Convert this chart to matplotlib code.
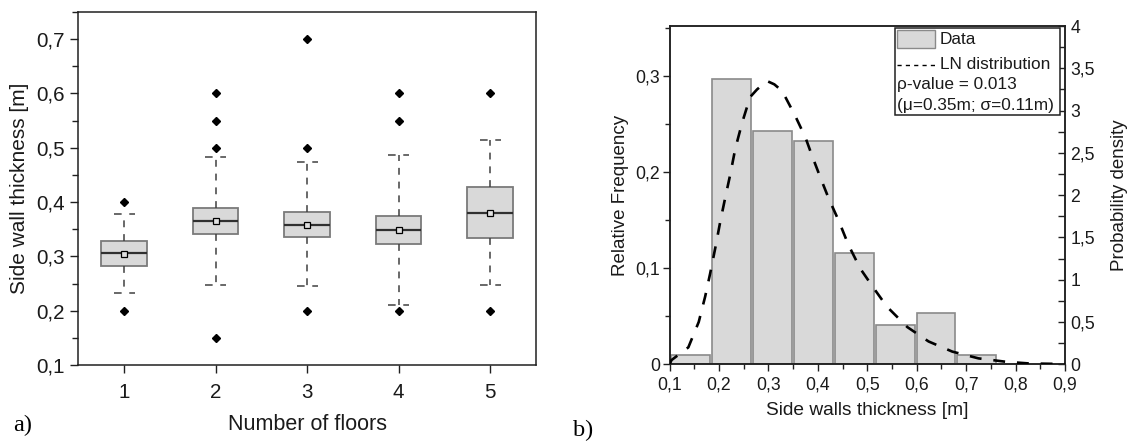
import matplotlib
matplotlib.use("Agg")
import matplotlib.pyplot as plt
from matplotlib.patches import Rectangle
from matplotlib.lines import Line2D
from matplotlib.ticker import MultipleLocator, FuncFormatter

plt.rcParams['font.family'] = ['Liberation Sans', 'DejaVu Sans']

# ---------------- data: panel a (box plots) ----------------
floors = [1, 2, 3, 4, 5]
q1 = [0.283, 0.341, 0.336, 0.322, 0.334]
median = [0.306, 0.366, 0.358, 0.349, 0.380]
q3 = [0.329, 0.389, 0.381, 0.375, 0.427]
mean = [0.305, 0.365, 0.358, 0.349, 0.380]
whisker_low = [0.233, 0.248, 0.245, 0.211, 0.247]
whisker_high = [0.378, 0.483, 0.473, 0.487, 0.515]
outliers = [[0.40, 0.20],
            [0.60, 0.55, 0.50, 0.15],
            [0.70, 0.50, 0.20],
            [0.60, 0.55, 0.20],
            [0.60, 0.20]]

# ---------------- data: panel b (histogram + LN fit) ----------------
bin_edges = [0.100, 0.183, 0.266, 0.349, 0.432, 0.515, 0.598, 0.680, 0.763]
rel_freq = [0.0097, 0.297, 0.243, 0.232, 0.116, 0.041, 0.053, 0.0097]
ln_x = [0.100, 0.104, 0.138, 0.159, 0.172, 0.182, 0.193, 0.203, 0.213, 0.223,
        0.233, 0.247, 0.263, 0.277, 0.297, 0.312, 0.328, 0.354, 0.375, 0.388,
        0.405, 0.422, 0.442, 0.462, 0.486, 0.513, 0.540, 0.581, 0.624, 0.672,
        0.725, 0.780, 0.827, 0.900]
ln_d = [0.00, 0.05, 0.20, 0.50, 0.80, 1.07, 1.39, 1.70, 1.98, 2.25,
        2.55, 2.86, 3.16, 3.25, 3.35, 3.31, 3.23, 2.94, 2.68, 2.47,
        2.21, 1.96, 1.70, 1.41, 1.13, 0.90, 0.68, 0.44, 0.27, 0.15,
        0.07, 0.03, 0.01, 0.003]

TXT = '#1a1a1a'

def comma(v, pos):
    s = ('%.2f' % v).rstrip('0').rstrip('.')
    return s.replace('.', ',')

fig = plt.figure(figsize=(11.27, 4.46), dpi=100)

# ================= panel a =================
ax = fig.add_axes([0.0695, 0.1816, 0.4059, 0.7915])
stats = []
for i in range(len(floors)):
    stats.append(dict(label=str(floors[i]), q1=q1[i], med=median[i], q3=q3[i],
                      mean=mean[i], whislo=whisker_low[i], whishi=whisker_high[i],
                      fliers=outliers[i]))
ax.bxp(stats, positions=floors, widths=0.5, capwidths=0.23, patch_artist=True,
       showmeans=True, showfliers=True,
       boxprops=dict(facecolor='#d9d9d9', edgecolor='#7a7a7a', linewidth=1.3),
       medianprops=dict(color='#303030', linewidth=1.6),
       whiskerprops=dict(color='#404040', linewidth=1.1, linestyle=(0, (4.5, 4.5))),
       capprops=dict(color='#404040', linewidth=1.1, linestyle=(0, (5, 5))),
       meanprops=dict(marker='s', markersize=4, markerfacecolor='#e0e0e0',
                      markeredgecolor='black', markeredgewidth=0.9),
       flierprops=dict(marker='D', markersize=4.2, markerfacecolor='black',
                       markeredgecolor='black'))
ax.set_xlim(0.5, 5.5)
ax.set_ylim(0.1, 0.75)
ax.yaxis.set_major_locator(MultipleLocator(0.1))
ax.yaxis.set_minor_locator(MultipleLocator(0.05))
ax.yaxis.set_major_formatter(FuncFormatter(comma))
ax.set_xticks(floors)
ax.set_xticklabels([str(f) for f in floors])
ax.tick_params(axis='both', which='major', direction='out', length=6, width=1,
               labelsize=14.8, labelcolor=TXT, color='#202020')
ax.tick_params(axis='y', which='minor', direction='out', length=4, width=1, color='#202020')
ax.tick_params(axis='y', which='major', pad=4)
ax.tick_params(axis='x', which='major', pad=7)
for sp in ax.spines.values():
    sp.set_linewidth(1.1)
    sp.set_color('#202020')
ax.set_xlabel('Number of floors', fontsize=15.5, color=TXT)
ax.set_ylabel('Side wall thickness [m]', fontsize=15, color=TXT)
ax.xaxis.set_label_coords(0.5, -0.138)
ax.yaxis.set_label_coords(-0.108, 0.5)

# ================= panel b =================
bx = fig.add_axes([0.5941, 0.1832, 0.3509, 0.7585])
gap = 0.004
lefts = [bin_edges[i] + gap / 2 for i in range(len(rel_freq))]
widths = [bin_edges[i + 1] - bin_edges[i] - gap for i in range(len(rel_freq))]
bx.bar(lefts, rel_freq, width=widths, align='edge', color='#d9d9d9',
       edgecolor='#8a8a8a', linewidth=1.2, zorder=2)
bx.set_xlim(0.1, 0.9)
bx.set_ylim(0, 0.352)
bx.xaxis.set_major_locator(MultipleLocator(0.1))
bx.xaxis.set_minor_locator(MultipleLocator(0.05))
bx.yaxis.set_major_locator(MultipleLocator(0.1))
bx.yaxis.set_minor_locator(MultipleLocator(0.05))
bx.xaxis.set_major_formatter(FuncFormatter(comma))
bx.yaxis.set_major_formatter(FuncFormatter(comma))
bx.tick_params(axis='both', which='major', direction='out', length=5, width=1,
               labelsize=12.7, labelcolor=TXT, color='#202020')
bx.tick_params(axis='both', which='minor', direction='out', length=3.5, width=1, color='#202020')
bx.tick_params(axis='y', which='major', pad=2)
bx.tick_params(axis='x', which='major', pad=4)
for sp in bx.spines.values():
    sp.set_linewidth(1.1)
    sp.set_color('#202020')
bx.set_xlabel('Side walls thickness [m]', fontsize=13.8, color=TXT)
bx.set_ylabel('Relative Frequency', fontsize=13.5, color=TXT)
bx.xaxis.set_label_coords(0.5, -0.112)
bx.yaxis.set_label_coords(-0.102, 0.5)

b2 = bx.twinx()
b2.plot(ln_x, ln_d, color='black', linewidth=1.9, linestyle=(0, (4.5, 4.5)), zorder=3)
b2.set_ylim(0, 4)
b2.yaxis.set_major_locator(MultipleLocator(0.5))
b2.yaxis.set_minor_locator(MultipleLocator(0.25))
b2.yaxis.set_major_formatter(FuncFormatter(comma))
b2.tick_params(axis='y', which='major', direction='in', length=5, width=1,
               labelsize=12.7, labelcolor=TXT, color='#202020', pad=4)
b2.tick_params(axis='y', which='minor', direction='in', length=5, width=1, color='#202020')
for sp in b2.spines.values():
    sp.set_linewidth(1.1)
    sp.set_color('#202020')
b2.set_ylabel('Probability density', fontsize=13.5, color=TXT)
b2.yaxis.set_label_coords(1.116, 0.5)

# legend box (drawn manually to hold the extra text lines)
T = b2.transAxes
b2.add_patch(Rectangle((0.570, 0.737), 0.417, 0.256, transform=T, facecolor='white',
                       edgecolor='#202020', linewidth=1.1, zorder=5))
b2.add_patch(Rectangle((0.574, 0.934), 0.097, 0.054, transform=T, facecolor='#d9d9d9',
                       edgecolor='#8a8a8a', linewidth=1.0, zorder=6))
b2.add_line(Line2D([0.574, 0.671], [0.885, 0.885], transform=T, color='black',
                   linewidth=1.0, linestyle=(0, (3, 3)), zorder=6))
b2.text(0.684, 0.961, 'Data', transform=T, fontsize=12.4, color=TXT, va='center', zorder=7)
b2.text(0.684, 0.885, 'LN distribution', transform=T, fontsize=12.4, color=TXT, va='center', zorder=7)
b2.text(0.574, 0.826, 'ρ-value = 0.013', transform=T, fontsize=12.4, color=TXT, va='center', zorder=7)
b2.text(0.574, 0.765, '(μ=0.35m; σ=0.11m)', transform=T, fontsize=12.4, color=TXT, va='center', zorder=7)

# panel letters
fig.text(0.0115, 0.045, 'a)', fontsize=17.5, family=['Liberation Serif', 'DejaVu Serif'],
         color='black', ha='left', va='center')
fig.text(0.508, 0.034, 'b)', fontsize=17.5, family=['Liberation Serif', 'DejaVu Serif'],
         color='black', ha='left', va='center')

fig.savefig('out.png', dpi=100)
